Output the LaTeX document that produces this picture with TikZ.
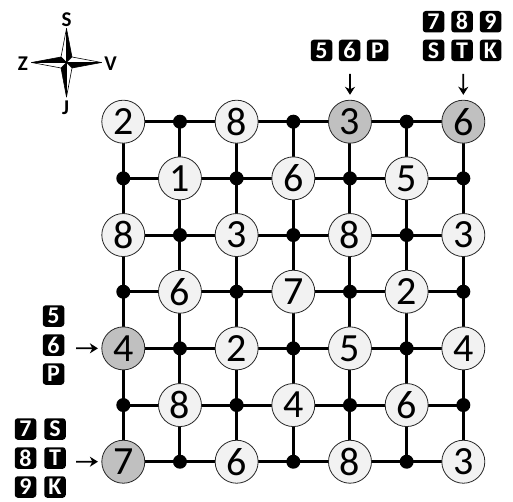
\documentclass[tikz,border=0pt]{standalone}
\usepackage{fontspec}
\setmainfont{Carlito}
\usetikzlibrary{arrows.meta}
\pgfdeclarelayer{background}
\pgfsetlayers{background,main}
\definecolor{cfill}{HTML}{F2F2F2}
\definecolor{cgray}{HTML}{C0C0C0}
\begin{document}
\begin{tikzpicture}[x=1pt,y=-1pt,
  num/.style={circle, draw=black!85, line width=0.8pt, fill=cfill, minimum size=43pt, inner sep=0pt, font=\fontsize{40}{40}\selectfont},
  numg/.style={num, fill=cgray},
  dotnode/.style={circle, fill=black, minimum size=14pt, inner sep=0pt},
  kbox/.style={fill=black, rounded corners=3pt, minimum size=21.5pt, inner sep=0pt, text=white, font=\fontsize{24}{24}\selectfont\bfseries},
  gridline/.style={line width=3pt},
  pointer/.style={-{Stealth[length=8pt,width=10pt,inset=2.5pt]}, line width=1.8pt},
  dirlabel/.style={inner sep=0pt, font=\fontsize{21}{21}\selectfont\bfseries},
  starblack/.style={fill=black, draw=black, line width=0.6pt, line join=miter},
  starwhite/.style={fill=white, draw=black, line width=0.6pt, line join=miter}
]
\useasboundingbox (0,0) rectangle (513,502);

% grid nodes
\foreach \r in {0,...,6}{
  \foreach \c in {0,...,6}{
    \pgfmathtruncatemacro\v{{2,0,8,0,13,0,16, 0,1,0,6,0,5,0, 8,0,3,0,8,0,3, 0,6,0,7,0,2,0, 14,0,2,0,5,0,4, 0,8,0,4,0,6,0, 17,0,6,0,8,0,3}[7*\r+\c]}
    \pgfmathsetmacro\px{123.3+56.67*\c}
    \pgfmathsetmacro\py{121.7+56.67*\r}
    \ifnum\v=0
      \node[dotnode] (g-\r-\c) at (\px,\py) {};
    \else\ifnum\v>9
      \pgfmathtruncatemacro\w{\v-10}
      \node[numg] (g-\r-\c) at (\px,\py) {\w};
    \else
      \node[num] (g-\r-\c) at (\px,\py) {\v};
    \fi\fi
  }
}

% grid lines
\begin{pgfonlayer}{background}
\foreach \r in {0,...,6}{
  \draw[gridline] (g-\r-0.center) \foreach \c in {1,...,6}{ -- (g-\r-\c.center)};
}
\foreach \c in {0,...,6}{
  \draw[gridline] (g-0-\c.center) \foreach \r in {1,...,6}{ -- (g-\r-\c.center)};
}
\end{pgfonlayer}

% compass
\coordinate (cc) at (66.5,62.5);
\coordinate (cn) at (66.5,28.5);
\coordinate (cs) at (66.5,97);
\coordinate (cw) at (31.5,62.5);
\coordinate (ce) at (101.5,62.5);
\coordinate (cne) at (72,57);
\coordinate (cnw) at (61,57);
\coordinate (cse) at (72,68);
\coordinate (csw) at (61,68);
\draw[starwhite] (cc) -- (cn) -- (cnw) -- cycle;
\draw[starblack] (cc) -- (cn) -- (cne) -- cycle;
\draw[starwhite] (cc) -- (ce) -- (cne) -- cycle;
\draw[starblack] (cc) -- (ce) -- (cse) -- cycle;
\draw[starwhite] (cc) -- (cs) -- (cse) -- cycle;
\draw[starblack] (cc) -- (cs) -- (csw) -- cycle;
\draw[starwhite] (cc) -- (cw) -- (csw) -- cycle;
\draw[starblack] (cc) -- (cw) -- (cnw) -- cycle;
\node[dirlabel] (lS) at (66.5,20) {S};
\node[dirlabel] (lJ) at (65.5,108) {J};
\node[dirlabel] (lZ) at (23,64) {Z};
\node[dirlabel] (lV) at (110.5,64) {V};

% top middle group
\node[kbox] (t1) at (321.5,50.5) {5};
\node[kbox] (t2) at (349.5,50.5) {6};
\node[kbox] (t3) at (377.5,50.5) {P};
\coordinate (ta) at (350,74);
\draw[pointer, shorten >=5pt] (ta) -- (g-0-4);

% top right group
\node[kbox] (r1) at (433.5,21.7) {7};
\node[kbox] (r2) at (462,21.7) {8};
\node[kbox] (r3) at (490.5,21.7) {9};
\node[kbox] (r4) at (433.5,50.3) {S};
\node[kbox] (r5) at (462,50.3) {T};
\node[kbox] (r6) at (490.5,50.3) {K};
\coordinate (ra) at (463.3,74);
\draw[pointer, shorten >=5pt] (ra) -- (g-0-6);

% left group
\node[kbox] (l1) at (53.5,316) {5};
\node[kbox] (l2) at (53.5,345) {6};
\node[kbox] (l3) at (53.5,374) {P};
\coordinate (la) at (76,348.3);
\draw[pointer, shorten >=3.5pt] (la) -- (g-4-0);

% bottom left group
\node[kbox] (b1) at (25.5,429) {7};
\node[kbox] (b2) at (25.5,458) {8};
\node[kbox] (b3) at (25.5,487) {9};
\node[kbox] (b4) at (55,429) {S};
\node[kbox] (b5) at (55,458) {T};
\node[kbox] (b6) at (55,487) {K};
\coordinate (ba) at (76,461.7);
\draw[pointer, shorten >=3.5pt] (ba) -- (g-6-0);
\end{tikzpicture}
\end{document}
